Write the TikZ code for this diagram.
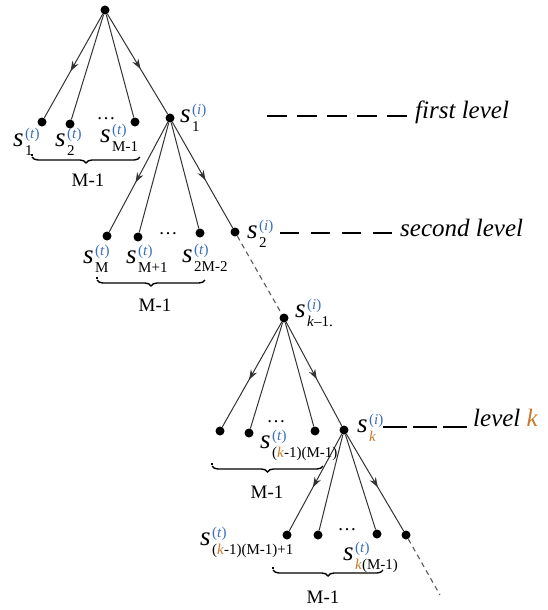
\documentclass[tikz,border=0pt]{standalone}
\usepackage{fontspec}
\setmainfont{Liberation Serif}
\usetikzlibrary{arrows.meta,decorations.markings,decorations.pathreplacing,calc}
\definecolor{supblue}{RGB}{60,110,190}
\definecolor{korange}{RGB}{200,120,40}
\newsavebox{\subbx}
\newsavebox{\supbx}
\newcommand{\SL}[2]{{\fontsize{27}{27}\selectfont\itshape s}\kern1.5pt%
  \sbox{\subbx}{\fontsize{15}{15}\selectfont\color{black}#1}%
  \sbox{\supbx}{\fontsize{15}{15}\selectfont\color{supblue}(\textit{#2})}%
  \ifdim\wd\subbx>\wd\supbx
    \rlap{\raisebox{8pt}{\usebox{\supbx}}}\raisebox{-9pt}{\usebox{\subbx}}%
  \else
    \rlap{\raisebox{-9pt}{\usebox{\subbx}}}\raisebox{8pt}{\usebox{\supbx}}%
  \fi}
\newcommand{\kk}{\textcolor{korange}{\textit{k}}}
\tikzset{
  dot/.style={circle,fill=black,inner sep=0pt,minimum size=9pt},
  tick/.style={rectangle,fill=black,inner sep=0pt,minimum size=2.6pt},
  edge/.style={draw=black!80,line width=1pt},
  arr/.style={edge,postaction={decorate},decoration={markings,mark=at position 0.55 with {\arrow{Stealth[length=10pt,width=7pt]}}}},
  dtree/.style={draw=black!65,line width=1.1pt,dash pattern=on 5pt off 4pt},
  lvldash/.style={draw=black,line width=1.2pt},
  lab/.style={inner sep=0pt,anchor=base west},
  cnt/.style={inner sep=0pt,font=\fontsize{19}{19}\selectfont},
  lvl/.style={inner sep=0pt,anchor=base west,font=\fontsize{25}{25}\selectfont\itshape},
  brc/.style={decorate,decoration={brace,mirror,amplitude=6pt},line width=1.4pt}
}
\begin{document}
\begin{tikzpicture}[x=1pt,y=-1pt]
\useasboundingbox (0,0) rectangle (547,610);
% dots
\node[dot] (r) at (105,10) {};
\node[dot] (a1) at (42,122) {};
\node[dot] (a2) at (70,124) {};
\node[dot] (a3) at (135,122) {};
\node[dot] (s1) at (170,118) {};
\node[dot] (b1) at (107,236) {};
\node[dot] (b2) at (138,237) {};
\node[dot] (b3) at (200,233) {};
\node[dot] (s2) at (235,232) {};
\node[dot] (sk1) at (284,318) {};
\node[dot] (c1) at (220,431) {};
\node[dot] (c2) at (249,433) {};
\node[dot] (c3) at (315,431) {};
\node[dot] (sk) at (344,430) {};
\node[dot] (d1) at (287,535) {};
\node[dot] (d2) at (318,535) {};
\node[dot] (d3) at (377,534) {};
\node[dot] (d4) at (406,535) {};
\coordinate (tail) at (440,595);
% edges
\draw[arr] (r) -- (a1);
\draw[edge] (r) -- (a2);
\draw[edge] (r) -- (a3);
\draw[arr] (r) -- (s1);
\draw[arr] (s1) -- (b1);
\draw[edge] (s1) -- (b2);
\draw[edge] (s1) -- (b3);
\draw[arr] (s1) -- (s2);
\draw[dtree] (s2) -- (sk1);
\draw[arr] (sk1) -- (c1);
\draw[edge] (sk1) -- (c2);
\draw[edge] (sk1) -- (c3);
\draw[arr] (sk1) -- (sk);
\draw[arr] (sk) -- (d1);
\draw[edge] (sk) -- (d2);
\draw[edge] (sk) -- (d3);
\draw[arr] (sk) -- (d4);
\draw[dtree] (d4) -- (tail);
% ellipses
\node[cnt,anchor=base] (e1) at (106,119) {\ldots};
\node[cnt,anchor=base] (e2) at (168,234) {\ldots};
\node[cnt,anchor=base] (e3) at (276,422) {\ldots};
\node[cnt,anchor=base] (e4) at (347,530) {\ldots};
% labels
\node[lab] (l1) at (13,146) {\SL{1}{t}};
\node[lab] (l2) at (55,146) {\SL{2}{t}};
\node[lab] (l3) at (100,142) {\SL{M-1}{t}};
\node[lab] (ls1) at (180,122) {\SL{1}{i}};
\node[lab] (m1) at (83,263) {\SL{M}{t}};
\node[lab] (m2) at (126,263) {\SL{M+1}{t}};
\node[lab] (m3) at (182,262) {\SL{2M-2}{t}};
\node[lab] (ls2) at (247,238) {\SL{2}{i}};
\node[lab] (lsk1) at (295,317) {\SL{\textit{k}–1.}{i}};
\node[lab] (n3) at (260,448) {\SL{(\kk-1)(M-1)}{t}};
\node[lab] (lsk) at (357,432) {\SL{\kk}{i}};
\node[lab] (p1) at (200,545) {\SL{(\kk-1)(M-1)+1}{t}};
\node[lab] (p3) at (343,560) {\SL{\kk(M-1)}{t}};
% braces
\coordinate (b1a) at (32,157); \coordinate (b1b) at (140,157);
\coordinate (b2a) at (97,280); \coordinate (b2b) at (205,280);
\coordinate (b3a) at (212,466); \coordinate (b3b) at (323,466);
\coordinate (b4a) at (273,570); \coordinate (b4b) at (383,570);
\draw[brc] (b1a) -- (b1b);
\draw[brc] (b2a) -- (b2b);
\draw[brc] (b3a) -- (b3b);
\draw[brc] (b4a) -- (b4b);
\node[tick] (t1) at (32,155) {};
\node[tick] (t2) at (97,278) {};
\node[tick] (t3) at (212,464) {};
\node[tick] (t4) at (273,568) {};
\node[cnt] (c1m) at (88,180) {M-1};
\node[cnt] (c2m) at (155,305) {M-1};
\node[cnt] (c3m) at (267,492) {M-1};
\node[cnt] (c4m) at (323,597) {M-1};
% level markers
\node[lvl] (L1) at (415,118) {first level};
\node[lvl] (L2) at (400,236) {second level};
\node[lvl] (L3) at (473,426) {level \textcolor{korange}{k}};
\coordinate (L1s) at (267,116); \coordinate (L1e) at (407,116);
\coordinate (L2s) at (280,233); \coordinate (L2e) at (392,233);
\coordinate (L3s) at (383,427); \coordinate (L3e) at (467,427);
\draw[lvldash,dash pattern=on 20pt off 10pt] (L1s) -- (L1e);
\draw[lvldash,dash pattern=on 19pt off 12pt] (L2s) -- (L2e);
\draw[lvldash,dash pattern=on 24pt off 6pt] (L3s) -- (L3e);
\end{tikzpicture}
\end{document}
